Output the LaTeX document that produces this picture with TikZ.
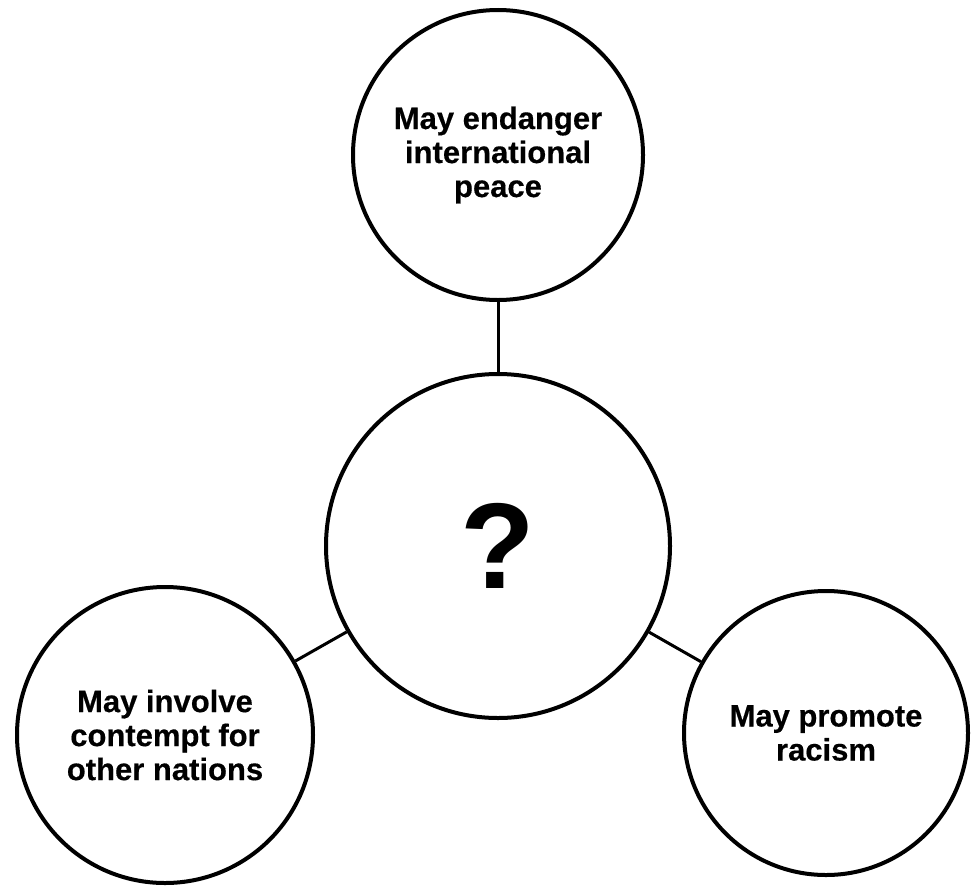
\documentclass[tikz,border=0pt]{standalone}
\usepackage{fontspec}
\setmainfont{Liberation Sans}
\newfontfamily\labelfont[FakeBold=0.4]{Liberation Sans}
\begin{document}
\begin{tikzpicture}[x=1pt,y=-1pt,
  circ/.style={circle, draw=black, line width=4pt, inner sep=0pt, align=center,
    font=\labelfont\fontsize{31}{34}\selectfont\bfseries},
  link/.style={draw=black, line width=3pt}]
\useasboundingbox[fill=white] (0,0) rectangle (971,886);
\node[circ, minimum size=290] (top) at (498,155) {\raisebox{-3pt}{\parbox{270pt}{\centering May endanger\\international\\peace}}};
\node[circ, minimum size=344, font=\fontsize{122}{122}\selectfont\bfseries] (mid) at (498,546) {?};
\node[circ, minimum size=296] (left) at (165,735) {May involve\\contempt for\\other nations};
\node[circ, minimum size=284] (right) at (826,733) {May promote\\racism};
\draw[link] (top) -- (mid);
\draw[link] (mid) -- (left);
\draw[link] (mid) -- (right);
\end{tikzpicture}
\end{document}
